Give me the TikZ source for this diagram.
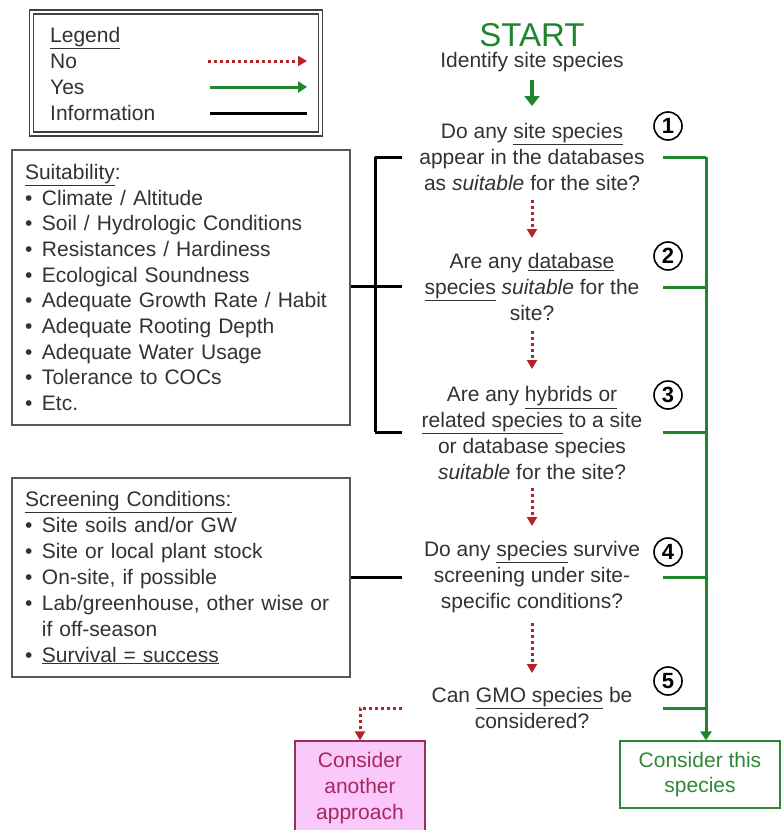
\documentclass[tikz,border=0pt]{standalone}
\usepackage{fontspec}
\setmainfont{Liberation Sans}
\usetikzlibrary{arrows.meta,calc}
\definecolor{txt}{RGB}{50,50,50}
\definecolor{ygreen}{RGB}{30,135,45}
\definecolor{nored}{RGB}{180,35,40}
\definecolor{pinkfill}{RGB}{250,200,250}
\definecolor{pinktxt}{RGB}{165,40,95}
\definecolor{pinkdraw}{RGB}{150,50,90}
\definecolor{boxgreen}{RGB}{45,135,55}
\newcommand{\bul}{\makebox[17pt][l]{•}}
\begin{document}
\begin{tikzpicture}[x=1pt,y=-1pt,
 every node/.style={font=\fontsize{21}{25.7}\selectfont, text=txt, inner sep=0pt},
 yesline/.style={draw=ygreen, line width=3pt},
 yesarrow/.style={draw=ygreen, line width=3pt, -{Triangle[length=9pt,width=11pt]}},
 noarrow/.style={draw=nored, line width=3pt, dash pattern=on 3pt off 3pt, -{Triangle[length=9pt,width=10pt]}},
 info/.style={draw=black, line width=3pt},
 qtext/.style={align=center},
 numc/.style={circle, draw=black, line width=1.6pt, minimum size=28pt, font=\bfseries\fontsize{22}{22}\selectfont, text=black},
 sidebox/.style={draw=black!65, line width=1.5pt, align=left, minimum width=338pt, inner xsep=13pt, text width=312pt}
]
\useasboundingbox (0,0) rectangle (784,830);

% Legend
\node (legendbox) [draw=black!75, double=white, double distance=2.5pt, line width=1.6pt, minimum width=289pt, minimum height=122pt] at (176,73) {};
\node[anchor=base west] (lgt) at (50,42) {\underline{Legend}};
\node[anchor=base west] (lgno) at (50,68.5) {No};
\node[anchor=base west] (lgyes) at (50,94.5) {Yes};
\node[anchor=base west] (lginfo) at (50,120.5) {Information};
\coordinate (lna) at (208,61); \coordinate (lnb) at (307,61);
\coordinate (lya) at (210,87); \coordinate (lyb) at (307,87);
\coordinate (lia) at (210,113); \coordinate (lib) at (307,113);
\draw[noarrow] (lna) -- (lnb);
\draw[yesarrow] (lya) -- (lyb);
\draw[info] (lia) -- (lib);

% Start
\node (start) at (532,35) {\textcolor{ygreen}{\fontsize{33}{33}\selectfont START}};
\node (ident) at (532,62) {Identify site species};

% Questions
\node[qtext] (q1) at (532,157) {Do any \underline{site species}\\appear in the databases\\as \textit{suitable} for the site?};
\node[qtext] (q2) at (532,287) {Are any \underline{database}\\\underline{species} \textit{suitable} for the\\site?};
\node[qtext] (q3) at (532,433) {Are any \underline{hybrids or}\\\underline{related species} to a site\\or database species\\\textit{suitable} for the site?};
\node[qtext] (q4) at (532,577) {Do any \underline{species} survive\\screening under site-\\specific conditions?};
\node[qtext] (q5) at (532,708) {Can \underline{GMO species} be\\considered?};

\node[numc] (c1) at (668,126) {1};
\node[numc] (c2) at (668,256) {2};
\node[numc] (c3) at (668,395) {3};
\node[numc] (c4) at (668,552) {4};
\node[numc] (c5) at (668,681) {5};

% Result boxes
\node (cts) [draw=boxgreen, line width=1.2pt, minimum width=160pt, minimum height=67pt, align=center, text=boxgreen] at (700,774.5) {Consider this\\species};
\node (cab) [draw=pinkdraw, fill=pinkfill, line width=1.2pt, minimum width=130pt, minimum height=94pt, align=center, text=pinktxt] at (360,788) {Consider\\another\\approach};

% Green arrows
\coordinate (sa) at (532,80);
\coordinate (sb) at (532,106);
\draw[draw=ygreen, line width=4.5pt, -{Triangle[length=10pt,width=15pt]}] (sa) -- (sb);

\coordinate (g1) at (663,157); \coordinate (j1) at (706,157);
\coordinate (g2) at (663,287); \coordinate (j2) at (706,287);
\coordinate (g3) at (663,432); \coordinate (j3) at (706,432);
\coordinate (g4) at (663,577); \coordinate (j4) at (706,577);
\coordinate (g5) at (663,708); \coordinate (j5) at (706,708);
\draw[yesline] (g1) -- (j1);
\draw[yesline] (g2) -- (j2);
\draw[yesline] (g3) -- (j3);
\draw[yesline] (g4) -- (j4);
\draw[yesline] (g5) -- (j5);
\draw[yesline] (j1) -- (j5);
\draw[yesarrow] (j5) -- (j5 |- cts.north);

% Red dotted arrows
\coordinate (r1a) at (532,200); \coordinate (r1b) at (532,238);
\coordinate (r2a) at (532,331); \coordinate (r2b) at (532,369);
\coordinate (r3a) at (532,488); \coordinate (r3b) at (532,526);
\coordinate (r4a) at (532,623); \coordinate (r4b) at (532,673);
\draw[noarrow] (r1a) -- (r1b);
\draw[noarrow] (r2a) -- (r2b);
\draw[noarrow] (r3a) -- (r3b);
\draw[noarrow] (r4a) -- (r4b);
\coordinate (r5) at (402,708);
\draw[noarrow] (r5) -| (cab.north);

% Side boxes
\node[sidebox, minimum height=275pt] (suit) at (181,287.5) {%
\underline{Suitability}:\\
\bul Climate / Altitude\\
\bul Soil / Hydrologic Conditions\\
\bul Resistances / Hardiness\\
\bul Ecological Soundness\\
\bul Adequate Growth Rate / Habit\\
\bul Adequate Rooting Depth\\
\bul Adequate Water Usage\\
\bul Tolerance to COCs\\
\bul Etc.};
\node[sidebox, minimum height=199pt, font=\fontsize{21}{26}\selectfont] (scr) at (181,577.5) {%
\underline{Screening Conditions:}\\
\bul Site soils and/or GW\\
\bul Site or local plant stock\\
\bul On-site, if possible\\
\bul Lab/greenhouse, other wise or\\
\hspace*{17pt}if off-season\\
\bul \underline{Survival = success}};

% Information bracket
\coordinate (bm) at (375,286);
\coordinate (bt) at (375,157); \coordinate (bb) at (375,432);
\coordinate (e1) at (402,157); \coordinate (e2) at (402,286); \coordinate (e3) at (402,432);
\draw[info] (suit.east |- bm) -- (bm);
\draw[info] (bt) -- (bb);
\draw[info] (bt) -- (e1);
\draw[info] (bm) -- (e2);
\draw[info] (bb) -- (e3);
\coordinate (e4) at (402,577);
\draw[info] (scr.east |- e4) -- (e4);
\end{tikzpicture}
\end{document}
